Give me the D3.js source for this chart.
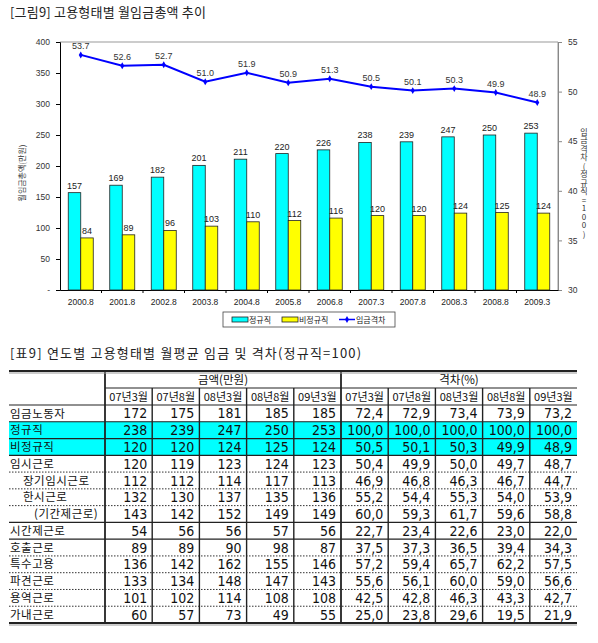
<!DOCTYPE html>
<html>
  <head>
    <meta charset="utf-8">
    <title>고용형태별 월임금총액 추이</title>
    <script src="https://d3js.org/d3.v7.min.js"></script>
    <style>
      body { margin: 0; background: #fff; }
      svg { display: block; }
      .kr { font-family: "Noto Sans CJK KR", sans-serif; }
      .num { font-family: "Liberation Sans", Arial, sans-serif; }
      .tnum { font-family: "Liberation Sans Narrow", "DejaVu Sans Condensed", "Liberation Sans", sans-serif; }
      .vert { writing-mode: vertical-rl; text-orientation: upright; }
    </style>
  </head>
  <body>
    <script>

      // chart data
      var categories = ["2000.8", "2001.8", "2002.8", "2003.8", "2004.8", "2005.8",
                        "2006.8", "2007.3", "2007.8", "2008.3", "2008.8", "2009.3"];
      var regular    = [157, 169, 182, 201, 211, 220, 226, 238, 239, 247, 250, 253];
      var nonRegular = [84, 89, 96, 103, 110, 112, 116, 120, 120, 124, 125, 124];
      var wageGap    = [53.7, 52.6, 52.7, 51.0, 51.9, 50.9, 51.3, 50.5, 50.1, 50.3, 49.9, 48.9];
      var leftTicks  = [0, 50, 100, 150, 200, 250, 300, 350, 400];
      var rightTicks = [30, 35, 40, 45, 50, 55];

      // table data
      var periods = ["07년3월", "07년8월", "08년3월", "08년8월", "09년3월"];
      var rowLabels = ["임금노동자", "정규직", "비정규직", "임시근로", "장기임시근로", "한시근로",
                       "(기간제근로)", "시간제근로", "호출근로", "특수고용", "파견근로", "용역근로", "가내근로"];
      var rowIndent = [0, 0, 0, 0, 1, 1, 2, 0, 0, 0, 0, 0, 0];
      var rowBreak  = ["solid", "solid", "solid", "dot", "dot", "dot", "solid", "solid", "dot", "dot", "dot", "dot", "end"];
      var amounts = [
        [172, 175, 181, 185, 185],
        [238, 239, 247, 250, 253],
        [120, 120, 124, 125, 124],
        [120, 119, 123, 124, 123],
        [112, 112, 114, 117, 113],
        [132, 130, 137, 135, 136],
        [143, 142, 152, 149, 149],
        [54, 56, 56, 57, 56],
        [89, 89, 90, 98, 87],
        [136, 142, 162, 155, 146],
        [133, 134, 148, 147, 143],
        [101, 102, 114, 108, 108],
        [60, 57, 73, 49, 55]
      ];
      var gaps = [
        [72.4, 72.9, 73.4, 73.9, 73.2],
        [100.0, 100.0, 100.0, 100.0, 100.0],
        [50.5, 50.1, 50.3, 49.9, 48.9],
        [50.4, 49.9, 50.0, 49.7, 48.7],
        [46.9, 46.8, 46.3, 46.7, 44.7],
        [55.2, 54.4, 55.3, 54.0, 53.9],
        [60.0, 59.3, 61.7, 59.6, 58.8],
        [22.7, 23.4, 22.6, 23.0, 22.0],
        [37.5, 37.3, 36.5, 39.4, 34.3],
        [57.2, 59.4, 65.7, 62.2, 57.5],
        [55.6, 56.1, 60.0, 59.0, 56.6],
        [42.5, 42.8, 46.3, 43.3, 42.7],
        [25.0, 23.8, 29.6, 19.5, 21.9]
      ];
      var highlightRows = [1, 2];

      var width = 598, height = 643;
      var svg = d3.select("body").append("svg")
        .attr("width", width)
        .attr("height", height);

      // ---------- chart ----------
      svg.append("text").attr("class", "kr")
        .attr("x", 10).attr("y", 17)
        .attr("font-size", 13).attr("letter-spacing", 0.2).attr("fill", "#222")
        .text("[그림9] 고용형태별 월임금총액 추이");

      var plotL = 60, plotR = 558, plotT = 42, plotB = 290;

      var xScale = d3.scaleBand().domain(categories).range([plotL, plotR]).padding(0);
      var yScale = d3.scaleLinear().domain([0, 400]).range([plotB, plotT]);
      var y2Scale = d3.scaleLinear().domain([30, 55]).range([plotB, plotT]);
      var barW = 12.5;

      var chart = svg.append("g");

      // frame (top and right in grey)
      chart.append("line").attr("x1", plotL).attr("x2", plotR).attr("y1", plotT).attr("y2", plotT)
        .attr("stroke", "#999");
      chart.append("line").attr("x1", plotR).attr("x2", plotR).attr("y1", plotT).attr("y2", plotB)
        .attr("stroke", "#999");

      // left axis
      var leftAxis = chart.append("g").attr("transform", "translate(" + plotL + ",0)")
        .call(d3.axisLeft(yScale).tickValues(leftTicks).tickSize(4).tickPadding(6)
          .tickFormat(function (d) { return d === 0 ? "-" : d; }));
      leftAxis.select(".domain").attr("stroke", "#000");
      leftAxis.selectAll("line").attr("stroke", "#000");
      leftAxis.selectAll("text").attr("class", "num").attr("font-size", 8.5).attr("fill", "#333");

      // right axis
      var rightAxis = chart.append("g").attr("transform", "translate(" + plotR + ",0)")
        .call(d3.axisRight(y2Scale).tickValues(rightTicks).tickSize(4).tickPadding(6));
      rightAxis.select(".domain").attr("stroke", "#888");
      rightAxis.selectAll("line").attr("stroke", "#888");
      rightAxis.selectAll("text").attr("class", "num").attr("font-size", 8.5).attr("fill", "#333");

      // x axis
      var xAxis = chart.append("g").attr("transform", "translate(0," + plotB + ")")
        .call(d3.axisBottom(xScale).tickSize(0).tickPadding(9));
      xAxis.select(".domain").attr("stroke", "#000").attr("stroke-width", 1.2);
      xAxis.selectAll("text").attr("class", "num").attr("font-size", 8.5).attr("fill", "#222");
      chart.append("g").selectAll("line").data(categories.slice(1)).enter().append("line")
        .attr("x1", function (d) { return xScale(d); })
        .attr("x2", function (d) { return xScale(d); })
        .attr("y1", plotB).attr("y2", plotB + 3)
        .attr("stroke", "#000");

      // bars
      var center = function (i) { return xScale(categories[i]) + xScale.bandwidth() / 2; };

      chart.append("g").selectAll("rect").data(regular).enter().append("rect")
        .attr("x", function (d, i) { return center(i) - barW; })
        .attr("y", function (d) { return yScale(d); })
        .attr("width", barW)
        .attr("height", function (d) { return plotB - yScale(d); })
        .attr("fill", "#00ffff").attr("stroke", "#222").attr("stroke-width", 0.8);

      chart.append("g").selectAll("rect").data(nonRegular).enter().append("rect")
        .attr("x", function (d, i) { return center(i); })
        .attr("y", function (d) { return yScale(d); })
        .attr("width", barW)
        .attr("height", function (d) { return plotB - yScale(d); })
        .attr("fill", "#ffff00").attr("stroke", "#222").attr("stroke-width", 0.8);

      chart.append("g").selectAll("text").data(regular).enter().append("text")
        .attr("class", "num")
        .attr("x", function (d, i) { return center(i) - barW / 2; })
        .attr("y", function (d) { return yScale(d) - 4; })
        .attr("text-anchor", "middle").attr("font-size", 9).attr("fill", "#222")
        .text(function (d) { return d; });

      chart.append("g").selectAll("text").data(nonRegular).enter().append("text")
        .attr("class", "num")
        .attr("x", function (d, i) { return center(i) + barW / 2; })
        .attr("y", function (d) { return yScale(d) - 4; })
        .attr("text-anchor", "middle").attr("font-size", 9).attr("fill", "#222")
        .text(function (d) { return d; });

      // wage-gap line
      var line = d3.line()
        .x(function (d, i) { return center(i); })
        .y(function (d) { return y2Scale(d); });

      chart.append("path").datum(wageGap)
        .attr("d", line)
        .attr("fill", "none").attr("stroke", "#0000ff").attr("stroke-width", 2);

      chart.append("g").selectAll("path").data(wageGap).enter().append("path")
        .attr("transform", function (d, i) { return "translate(" + center(i) + "," + y2Scale(d) + ")"; })
        .attr("d", d3.symbol().type(d3.symbolDiamond).size(14))
        .attr("fill", "#0000ff");

      chart.append("g").selectAll("text").data(wageGap).enter().append("text")
        .attr("class", "num")
        .attr("x", function (d, i) { return center(i); })
        .attr("y", function (d) { return y2Scale(d) - 6; })
        .attr("text-anchor", "middle").attr("font-size", 9).attr("fill", "#333")
        .text(function (d) { return d.toFixed(1); });

      // axis titles
      svg.append("text").attr("class", "kr")
        .attr("transform", "translate(25,173) rotate(-90)")
        .attr("text-anchor", "middle").attr("font-size", 8).attr("fill", "#333")
        .text("월임금총액(만원)");

      svg.append("text").attr("class", "kr vert")
        .attr("x", 584).attr("y", 183)
        .attr("text-anchor", "middle")
        .attr("font-size", 8).attr("letter-spacing", 0.5).attr("fill", "#333")
        .text("임금격차(정규직=100)");

      // legend
      var legend = svg.append("g").attr("transform", "translate(223,312)");
      legend.append("rect").attr("width", 172).attr("height", 15)
        .attr("fill", "#fff").attr("stroke", "#444").attr("stroke-width", 0.8);
      legend.append("rect").attr("x", 9).attr("y", 5).attr("width", 16).attr("height", 5)
        .attr("fill", "#00ffff").attr("stroke", "#222").attr("stroke-width", 0.8);
      legend.append("text").attr("class", "kr").attr("x", 26).attr("y", 10.5)
        .attr("font-size", 8).attr("fill", "#222").text("정규직");
      legend.append("rect").attr("x", 59).attr("y", 5).attr("width", 16).attr("height", 5)
        .attr("fill", "#ffff00").attr("stroke", "#222").attr("stroke-width", 0.8);
      legend.append("text").attr("class", "kr").attr("x", 76).attr("y", 10.5)
        .attr("font-size", 8).attr("fill", "#222").text("비정규직");
      legend.append("line").attr("x1", 116).attr("x2", 132).attr("y1", 7.5).attr("y2", 7.5)
        .attr("stroke", "#0000ff").attr("stroke-width", 1.5);
      legend.append("path").attr("transform", "translate(124,7.5)")
        .attr("d", d3.symbol().type(d3.symbolDiamond).size(14)).attr("fill", "#0000ff");
      legend.append("text").attr("class", "kr").attr("x", 133).attr("y", 10.5)
        .attr("font-size", 8).attr("fill", "#222").text("임금격차");

      // ---------- table ----------
      svg.append("text").attr("class", "kr")
        .attr("x", 10).attr("y", 358)
        .attr("font-size", 13).attr("letter-spacing", 1.2).attr("fill", "#222")
        .text("[표9] 연도별 고용형태별 월평균 임금 및 격차(정규직=100)");

      var tabL = 9, labelR = 105, tabR = 577;
      var headTop = 371, headMid = 388, bodyTop = 405, bodyBot = 623;
      var colKeys = d3.range(10);
      var colScale = d3.scaleBand().domain(colKeys).range([labelR, tabR]);
      var rowScale = d3.scaleBand().domain(d3.range(rowLabels.length)).range([bodyTop, bodyBot]);

      var table = svg.append("g");

      // highlighted rows
      table.append("g").selectAll("rect").data(highlightRows).enter().append("rect")
        .attr("x", tabL).attr("width", tabR - tabL)
        .attr("y", function (r) { return rowScale(r); })
        .attr("height", rowScale.bandwidth())
        .attr("fill", "#00ffff");

      // horizontal rules between rows
      table.append("g").selectAll("line").data(rowBreak).enter().append("line")
        .filter(function (d) { return d !== "end"; })
        .attr("x1", tabL).attr("x2", tabR)
        .attr("y1", function (d, i) { return rowScale(i) + rowScale.bandwidth(); })
        .attr("y2", function (d, i) { return rowScale(i) + rowScale.bandwidth(); })
        .attr("stroke", function (d) { return d === "dot" ? "#333" : "#222"; })
        .attr("stroke-width", function (d) { return d === "dot" ? 1 : 1.2; })
        .attr("stroke-dasharray", function (d) { return d === "dot" ? "1.5,1.5" : null; });

      // header rules
      table.append("line").attr("x1", labelR).attr("x2", tabR).attr("y1", headMid).attr("y2", headMid)
        .attr("stroke", "#222").attr("stroke-width", 1.2);
      table.append("line").attr("x1", tabL).attr("x2", tabR).attr("y1", bodyTop).attr("y2", bodyTop)
        .attr("stroke", "#222").attr("stroke-width", 1.2);

      // vertical rules
      table.append("g").selectAll("line").data(colKeys).enter().append("line")
        .attr("x1", function (c) { return colScale(c); })
        .attr("x2", function (c) { return colScale(c); })
        .attr("y1", function (c) { return (c === 0 || c === 5) ? headTop : headMid; })
        .attr("y2", bodyBot)
        .attr("stroke", "#222")
        .attr("stroke-width", function (c) { return (c === 0 || c === 5) ? 1.8 : 1.4; });

      // top and bottom thick rules
      [headTop, bodyBot].forEach(function (y) {
        table.append("line").attr("x1", tabL).attr("x2", tabR).attr("y1", y).attr("y2", y)
          .attr("stroke", "#222").attr("stroke-width", 2.2);
        table.append("line").attr("x1", tabL).attr("x2", tabR).attr("y1", y + 2).attr("y2", y + 2)
          .attr("stroke", "#999").attr("stroke-width", 1);
      });

      // header text
      table.append("text").attr("class", "kr")
        .attr("x", (colScale(0) + colScale(4) + colScale.bandwidth()) / 2)
        .attr("y", headTop + 13).attr("text-anchor", "middle")
        .attr("font-size", 11.5).attr("fill", "#111").text("금액(만원)");
      table.append("text").attr("class", "kr")
        .attr("x", (colScale(5) + colScale(9) + colScale.bandwidth()) / 2)
        .attr("y", headTop + 13).attr("text-anchor", "middle")
        .attr("font-size", 11.5).attr("fill", "#111").text("격차(%)");

      table.append("g").selectAll("text").data(colKeys).enter().append("text")
        .attr("class", "kr")
        .attr("x", function (c) { return colScale(c) + colScale.bandwidth() / 2; })
        .attr("y", headMid + 13)
        .attr("text-anchor", "middle").attr("font-size", 11).attr("fill", "#111")
        .text(function (c) { return periods[c % 5]; });

      // row labels
      table.append("g").selectAll("text").data(rowLabels).enter().append("text")
        .attr("class", "kr")
        .attr("x", function (d, i) { return tabL + 1 + [0, 13, 24][rowIndent[i]]; })
        .attr("y", function (d, i) { return rowScale(i) + rowScale.bandwidth() / 2; })
        .attr("dy", "0.36em")
        .attr("font-size", 11.5).attr("letter-spacing", 0.5).attr("fill", "#111")
        .text(function (d) { return d; });

      // cells
      var cells = [];
      rowLabels.forEach(function (lab, r) {
        amounts[r].forEach(function (v, c) { cells.push({ r: r, c: c, text: String(v) }); });
        gaps[r].forEach(function (v, c) { cells.push({ r: r, c: c + 5, text: v.toFixed(1).replace(".", ",") }); });
      });

      table.append("g").selectAll("text").data(cells).enter().append("text")
        .attr("class", "tnum")
        .attr("x", function (d) { return colScale(d.c) + colScale.bandwidth() - 5; })
        .attr("y", function (d) { return rowScale(d.r) + rowScale.bandwidth() / 2; })
        .attr("dy", "0.36em")
        .attr("text-anchor", "end").attr("font-size", 14).attr("fill", "#111")
        .text(function (d) { return d.text; });

    </script>
  </body>
</html>
